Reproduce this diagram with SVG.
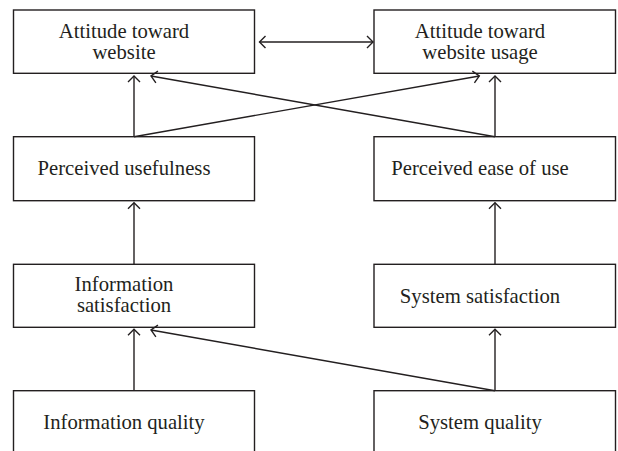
<svg xmlns="http://www.w3.org/2000/svg" width="618" height="451" viewBox="0 0 618 451">
<defs>
<style>
.box{fill:#fff;stroke:#231f20;stroke-width:1.4}
.t{font-family:"Liberation Serif","Times New Roman",serif;font-size:20.7px;fill:#231f20;text-anchor:middle}
.c{fill:none;stroke:#231f20;stroke-width:1.4}
</style>
<marker id="ah" markerUnits="userSpaceOnUse" viewBox="-8 -8 10 16" refX="0" refY="0" markerWidth="10" markerHeight="16" orient="auto-start-reverse">
<path d="M-6,-6 L0,0 L-6,6" fill="none" stroke="#231f20" stroke-width="1.4"/>
</marker>
</defs>
<rect width="618" height="451" fill="#fff"/>
<g id="attitude-website">
<rect class="box" x="13.5" y="10" width="241" height="63.3"/>
<text class="t" x="124" y="38">Attitude toward</text>
<text class="t" x="124" y="58.5">website</text>
</g>
<g id="attitude-usage">
<rect class="box" x="374" y="10" width="241.5" height="63.3"/>
<text class="t" x="480" y="38">Attitude toward</text>
<text class="t" x="480" y="58.5">website usage</text>
</g>
<g id="perceived-usefulness">
<rect class="box" x="13.5" y="136.7" width="241" height="64"/>
<text class="t" x="124" y="175">Perceived usefulness</text>
</g>
<g id="perceived-ease">
<rect class="box" x="374" y="136.7" width="241.5" height="64"/>
<text class="t" x="480" y="175">Perceived ease of use</text>
</g>
<g id="information-satisfaction">
<rect class="box" x="13.5" y="264.3" width="241" height="63"/>
<text class="t" x="124" y="291">Information</text>
<text class="t" x="124" y="312">satisfaction</text>
</g>
<g id="system-satisfaction">
<rect class="box" x="374" y="264.3" width="241.5" height="63"/>
<text class="t" x="480" y="302.5">System satisfaction</text>
</g>
<g id="information-quality">
<rect class="box" x="13.5" y="390.7" width="241" height="70"/>
<text class="t" x="124" y="428.5">Information quality</text>
</g>
<g id="system-quality">
<rect class="box" x="374" y="390.7" width="241.5" height="70"/>
<text class="t" x="480" y="428.5">System quality</text>
</g>
<g id="connectors">
<line class="c" x1="259.5" y1="42" x2="373" y2="42" marker-start="url(#ah)" marker-end="url(#ah)"/>
<line class="c" x1="134" y1="136.7" x2="134" y2="76" marker-end="url(#ah)"/>
<line class="c" x1="495" y1="136.7" x2="495" y2="76" marker-end="url(#ah)"/>
<line class="c" x1="134" y1="136.7" x2="479.3" y2="76" marker-end="url(#ah)"/>
<line class="c" x1="495" y1="136.7" x2="151" y2="76" marker-end="url(#ah)"/>
<line class="c" x1="134" y1="264.3" x2="134" y2="202.7" marker-end="url(#ah)"/>
<line class="c" x1="495" y1="264.3" x2="495" y2="202.7" marker-end="url(#ah)"/>
<line class="c" x1="134" y1="390.7" x2="134" y2="329.3" marker-end="url(#ah)"/>
<line class="c" x1="495" y1="390.7" x2="495" y2="329.3" marker-end="url(#ah)"/>
<line class="c" x1="495" y1="390.7" x2="151" y2="330" marker-end="url(#ah)"/>
</g>
</svg>
